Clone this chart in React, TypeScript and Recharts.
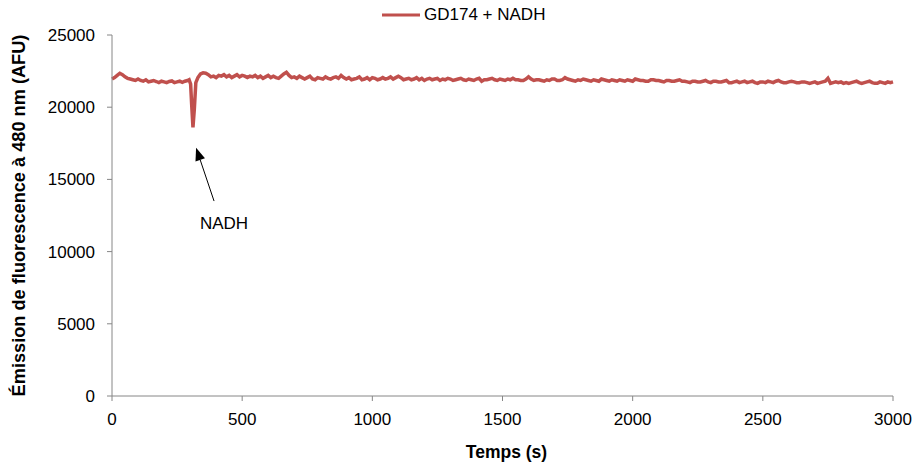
import React from "react";
import { LineChart, Line, XAxis, YAxis, ReferenceLine } from "recharts";

const seriesName = "GD174 + NADH";

const grid = (a: number, b: number, step: number) => {
  const out: number[] = [];
  for (let t = a; t <= b; t += step) out.push(t);
  return out;
};
const dipTimes = [296, 302, 306, 311, 316, 322, 330];
const times = [...grid(0, 290, 10), ...dipTimes, ...grid(340, 3000, 10)];

const emissionStart = [
  21950, 22050, 22200, 22350, 22250, 22100, 22000, 21950, 21900, 21850, 21950, 21850, 21800, 21900, 21750, 21800, 21850, 21780, 21700, 21800,
  21750, 21700, 21780, 21820, 21700, 21750, 21800, 21720, 21800, 21850,
];
const emissionDip = [21900, 21600, 20200, 18600, 19800, 21700, 22050];
const emissionRest = [
  22300, 22380, 22350, 22250, 22100, 22150, 22050, 22200, 22150, 22250,
  22100, 22200, 22050, 22150, 22250, 22100, 22200, 22150, 22050, 22150,
  22100, 22200, 22050, 22150, 22000, 22100, 22200, 22050, 22150, 22050,
  22000, 22150, 22300, 22420, 22200, 22050, 22100, 22000, 22150, 22050,
  21950, 22050, 22150, 21950, 21900, 22050, 22000, 21950, 22100, 22000,
  21950, 22050, 22100, 22000, 22200, 22050, 21950, 22050, 21900, 21950,
  22000, 22100, 21900, 21950, 22050, 21900, 22050, 22000, 21900, 21950,
  22050, 21950, 22000, 22100, 21950, 22050, 22150, 22050, 21900, 21950,
  22000, 21900, 21950, 22050, 21900, 22000, 21850, 21950, 22000, 21900,
  21950, 22000, 21850, 21950, 21900, 22000, 21950, 21850, 21900, 21950,
  22000, 21900, 21850, 21950, 21900, 21850, 21950, 22000, 21800, 21900,
  21900, 21950, 22000, 21900, 21850, 21950, 21900, 21850, 21950, 21900,
  22000, 21900, 21900, 21850, 21850, 21950, 22100, 21950, 21850, 21900,
  21900, 21850, 21800, 21900, 21850, 21950, 21950, 21850, 21850, 21900,
  22050, 21950, 21900, 21850, 21800, 21900, 21850, 21950, 21900, 21850,
  21800, 21900, 21850, 21800, 21950, 21900, 21850, 21800, 21900, 21850,
  21800, 21900, 21850, 21800, 21900, 21850, 21800, 21950, 21900, 21850,
  21850, 21800, 21800, 21900, 21900, 21850, 21850, 21800, 21750, 21850,
  21850, 21800, 21800, 21850, 21900, 21800, 21800, 21750, 21700, 21800,
  21800, 21750, 21750, 21800, 21850, 21750, 21700, 21800, 21800, 21750,
  21750, 21800, 21850, 21700, 21700, 21750, 21800, 21700, 21750, 21800,
  21700, 21750, 21800, 21700, 21650, 21750, 21750, 21700, 21800, 21750,
  21700, 21800, 21850, 21750, 21700, 21700, 21750, 21800, 21750, 21700,
  21700, 21750, 21750, 21700, 21650, 21700, 21750, 21650, 21700, 21750,
  21800, 22000, 21650, 21700, 21750, 21700, 21750, 21650, 21700, 21650,
  21700, 21750, 21800, 21700, 21650, 21700, 21750, 21800, 21700, 21650,
  21650, 21750, 21700, 21650, 21750, 21700, 21750,
];
const emission = [...emissionStart, ...emissionDip, ...emissionRest];

const xTicks = [0, 500, 1000, 1500, 2000, 2500, 3000];
const yTicks = [0, 5000, 10000, 15000, 20000, 25000];

const annotationText = "NADH";
const arrowFrom = { t: 392, v: 13500 };
const arrowTo = { t: 323, v: 17200 };

const data = times.map((t, i) => ({ t, v: emission[i] }));

const RED = "#C0504D";
const AXIS = "#868686";
const FONT = "Arial, 'Liberation Sans', sans-serif";

const ArrowShape = (props: any) => {
  const { x1, y1, x2, y2 } = props;
  const dx = x2 - x1;
  const dy = y2 - y1;
  const len = Math.sqrt(dx * dx + dy * dy) || 1;
  const ux = dx / len;
  const uy = dy / len;
  const hl = 13;
  const hw = 5;
  const bx = x2 - ux * hl;
  const by = y2 - uy * hl;
  const px = -uy;
  const py = ux;
  return (
    <g>
      <line x1={x1} y1={y1} x2={bx} y2={by} stroke="#000" strokeWidth={1} />
      <polygon
        points={`${x2},${y2} ${bx + px * hw},${by + py * hw} ${bx - px * hw},${by - py * hw}`}
        fill="#000"
      />
      <text x={x1 + 10} y={y1 + 28} textAnchor="middle" fontSize={17} fontFamily={FONT} fill="#000">
        {annotationText}
      </text>
    </g>
  );
};

export default function App() {
  return (
    <div style={{ position: "absolute", left: 0, top: 0, width: 918, height: 464, background: "#fff" }}>
      <div
        style={{
          position: "absolute",
          left: 382,
          top: 5,
          display: "flex",
          alignItems: "center",
          fontFamily: FONT,
          fontSize: 17,
          color: "#000",
          lineHeight: "20px",
          zIndex: 2,
        }}
      >
        <svg width={42} height={10}>
          <line x1={0} y1={5} x2={38} y2={5} stroke={RED} strokeWidth={3} />
        </svg>
        <span>{seriesName}</span>
      </div>
      <LineChart width={918} height={464} data={data} margin={{ top: 35, right: 25, bottom: 0, left: 0 }}>
        <XAxis
          dataKey="t"
          type="number"
          domain={[0, 3000]}
          ticks={xTicks}
          height={68}
          stroke={AXIS}
          tickSize={5}
          tickMargin={12}
          tick={{ fill: "#000", fontSize: 17, fontFamily: FONT }}
          label={{ value: "Temps (s)", position: "center", dx: 4, dy: 22, fill: "#000", fontSize: 17.5, fontWeight: "bold", fontFamily: FONT }}
        />
        <YAxis
          type="number"
          domain={[0, 25000]}
          ticks={yTicks}
          width={112}
          stroke={AXIS}
          tickSize={5}
          tickMargin={12}
          tick={{ fill: "#000", fontSize: 17, fontFamily: FONT }}
          label={{
            value: "Émission de fluorescence à 480 nm (AFU)",
            angle: -90,
            position: "center",
            dx: -37,
            fill: "#000",
            fontSize: 18.2,
            fontWeight: "bold",
            fontFamily: FONT,
          }}
        />
        <ReferenceLine
          segment={[
            { x: arrowFrom.t, y: arrowFrom.v },
            { x: arrowTo.t, y: arrowTo.v },
          ]}
          shape={ArrowShape}
          ifOverflow="visible"
        />
        <Line
          type="linear"
          dataKey="v"
          name={seriesName}
          stroke={RED}
          strokeWidth={3.5}
          dot={false}
          isAnimationActive={false}
        />
      </LineChart>
    </div>
  );
}
